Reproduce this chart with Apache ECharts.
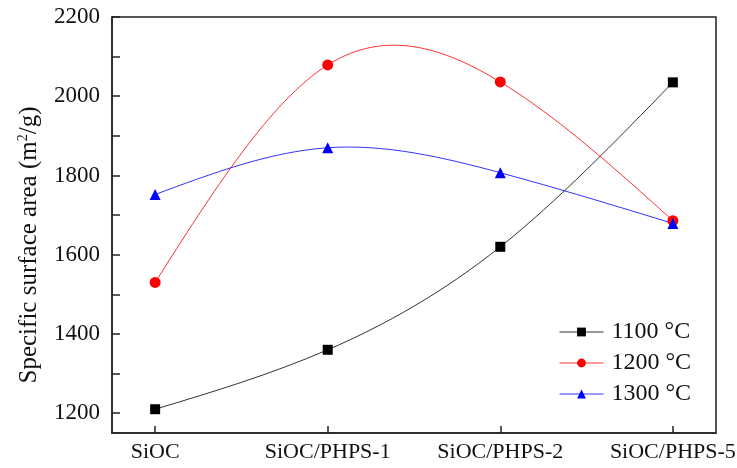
<!DOCTYPE html>
<html>
<head>
<meta charset="utf-8">
<script src="https://cdn.jsdelivr.net/npm/echarts@6/dist/echarts.min.js"></script>
<style>
  html, body { margin: 0; padding: 0; background: #fff; }
  #chart { width: 737px; height: 468px; }
</style>
</head>
<body>
<div id="chart"></div>
<script>
// Sample names along the horizontal axis
const categories = ['SiOC', 'SiOC/PHPS-1', 'SiOC/PHPS-2', 'SiOC/PHPS-5'];

// Specific surface area (m²/g) per pyrolysis temperature
const seriesNames = ['1100 °C', '1200 °C', '1300 °C'];
const area1100 = [1210, 1360, 1620, 2035];
const area1200 = [1530, 2079, 2036, 1686];
const area1300 = [1752, 1870, 1807, 1679];

// Vertical axis ticks and labels
const yTickValues = [1200, 1300, 1400, 1500, 1600, 1700, 1800, 1900, 2000, 2100, 2200];
const yLabelValues = [1200, 1400, 1600, 1800, 2000, 2200];

const FONT = 'Liberation Serif';
const COLORS = ['#000000', '#ff0000', '#0000ff'];
const SYMBOLS = ['rect', 'circle', 'triangle'];
const SYMBOL_SIZES = [10, 11, 11];
const allSeries = [area1100, area1200, area1300];

const toPairs = arr => arr.map((v, i) => [i, v]);
const catIndex = categories.map((_, i) => i);

// Natural cubic spline through pixel points (x evenly spaced),
// returned as an SVG path made of exact cubic Bezier segments.
function splinePath(pts) {
  const n = pts.length;
  if (n < 2) return '';
  const h = [];
  for (let i = 0; i < n - 1; i++) h.push(pts[i + 1][0] - pts[i][0]);
  // Second derivatives M (natural: M0 = Mn-1 = 0), tridiagonal solve
  const M = new Array(n).fill(0);
  if (n > 2) {
    const a = [], b = [], c = [], d = [];
    for (let i = 1; i < n - 1; i++) {
      a.push(h[i - 1]);
      b.push(2 * (h[i - 1] + h[i]));
      c.push(h[i]);
      d.push(6 * ((pts[i + 1][1] - pts[i][1]) / h[i] - (pts[i][1] - pts[i - 1][1]) / h[i - 1]));
    }
    const m = b.length;
    for (let i = 1; i < m; i++) {
      const w = a[i] / b[i - 1];
      b[i] -= w * c[i - 1];
      d[i] -= w * d[i - 1];
    }
    const sol = new Array(m);
    sol[m - 1] = d[m - 1] / b[m - 1];
    for (let i = m - 2; i >= 0; i--) sol[i] = (d[i] - c[i] * sol[i + 1]) / b[i];
    for (let i = 0; i < m; i++) M[i + 1] = sol[i];
  }
  // Slopes at each node
  const s = new Array(n);
  for (let i = 0; i < n - 1; i++) {
    s[i] = (pts[i + 1][1] - pts[i][1]) / h[i] - h[i] * (2 * M[i] + M[i + 1]) / 6;
  }
  s[n - 1] = (pts[n - 1][1] - pts[n - 2][1]) / h[n - 2] + h[n - 2] * (M[n - 2] + 2 * M[n - 1]) / 6;
  let path = 'M' + pts[0][0] + ' ' + pts[0][1];
  for (let i = 0; i < n - 1; i++) {
    const [x0, y0] = pts[i], [x1, y1] = pts[i + 1];
    const k = h[i] / 3;
    path += ' C' + (x0 + k) + ' ' + (y0 + k * s[i]) + ' ' +
            (x1 - k) + ' ' + (y1 - k * s[i + 1]) + ' ' + x1 + ' ' + y1;
  }
  return path;
}

// Curve series: one path per temperature, positioned through the axes
const curveSeries = allSeries.map((arr, si) => ({
  type: 'custom',
  name: seriesNames[si] + ' curve',
  coordinateSystem: 'cartesian2d',
  data: toPairs(arr),
  silent: true,
  z: 1,
  renderItem: function (params, api) {
    if (params.dataIndex !== 0) return null;
    const pts = arr.map((v, i) => api.coord([i, v]));
    return {
      type: 'path',
      shape: { pathData: splinePath(pts) },
      style: { fill: 'none', stroke: COLORS[si], lineWidth: 1, opacity: 0.8 }
    };
  }
}));

// Marker series: the measured points
const markerSeries = allSeries.map((arr, si) => ({
  name: seriesNames[si],
  type: 'line',
  data: toPairs(arr),
  symbol: SYMBOLS[si],
  symbolSize: SYMBOL_SIZES[si],
  showAllSymbol: true,
  z: 3,
  itemStyle: { color: COLORS[si], opacity: 1 },
  lineStyle: { color: COLORS[si], width: 1, opacity: 0 },
  emphasis: { disabled: true }
}));

const chart = echarts.init(document.getElementById('chart'), null, { renderer: 'canvas' });

chart.setOption({
  backgroundColor: '#fff',
  animation: false,
  grid: {
    left: 112, right: 21, top: 17, bottom: 35,
    outerBoundsMode: 'none',
    containLabel: false,
    show: true, borderColor: '#222', borderWidth: 1.5, backgroundColor: 'transparent'
  },
  legend: {
    orient: 'vertical',
    left: 559,
    top: 320,
    padding: 0,
    itemWidth: 44,
    itemHeight: 11,
    itemGap: 7,
    data: seriesNames,
    lineStyle: { opacity: 0.8, width: 1 },
    textStyle: { fontFamily: FONT, fontSize: 24, color: '#111', lineHeight: 22, padding: [0, 0, 0, 3] }
  },
  xAxis: {
    type: 'value',
    min: -0.25,
    max: 3.25,
    splitLine: { show: false },
    axisLine: { show: true, onZero: false, lineStyle: { color: '#222', width: 1.5 } },
    axisTick: { show: true, inside: true, length: 7, customValues: catIndex, lineStyle: { color: '#222', width: 1.5 } },
    axisLabel: {
      customValues: catIndex,
      formatter: v => categories[Math.round(v)] || '',
      fontFamily: FONT, fontSize: 22, color: '#111', margin: 8
    }
  },
  yAxis: {
    type: 'value',
    min: 1150,
    max: 2200,
    name: '{a|Specific surface area (m}{s|2}{a|/g)}',
    nameLocation: 'middle',
    nameRotate: 90,
    nameGap: 70,
    nameTextStyle: {
      padding: [0, 40, 0, 0],
      rich: {
        a: { fontFamily: FONT, fontSize: 25, color: '#111' },
        s: { fontFamily: FONT, fontSize: 14, color: '#111', verticalAlign: 'top', padding: [0, 0, 12, 0] }
      }
    },
    splitLine: { show: false },
    axisLine: { show: true, onZero: false, lineStyle: { color: '#222', width: 1.5 } },
    axisTick: { show: true, inside: true, length: 8, customValues: yTickValues, lineStyle: { color: '#222', width: 1.5 } },
    axisLabel: {
      customValues: yLabelValues,
      formatter: v => String(v),
      fontFamily: FONT, fontSize: 23, color: '#111', margin: 12
    }
  },
  series: curveSeries.concat(markerSeries)
});
</script>
</body>
</html>
